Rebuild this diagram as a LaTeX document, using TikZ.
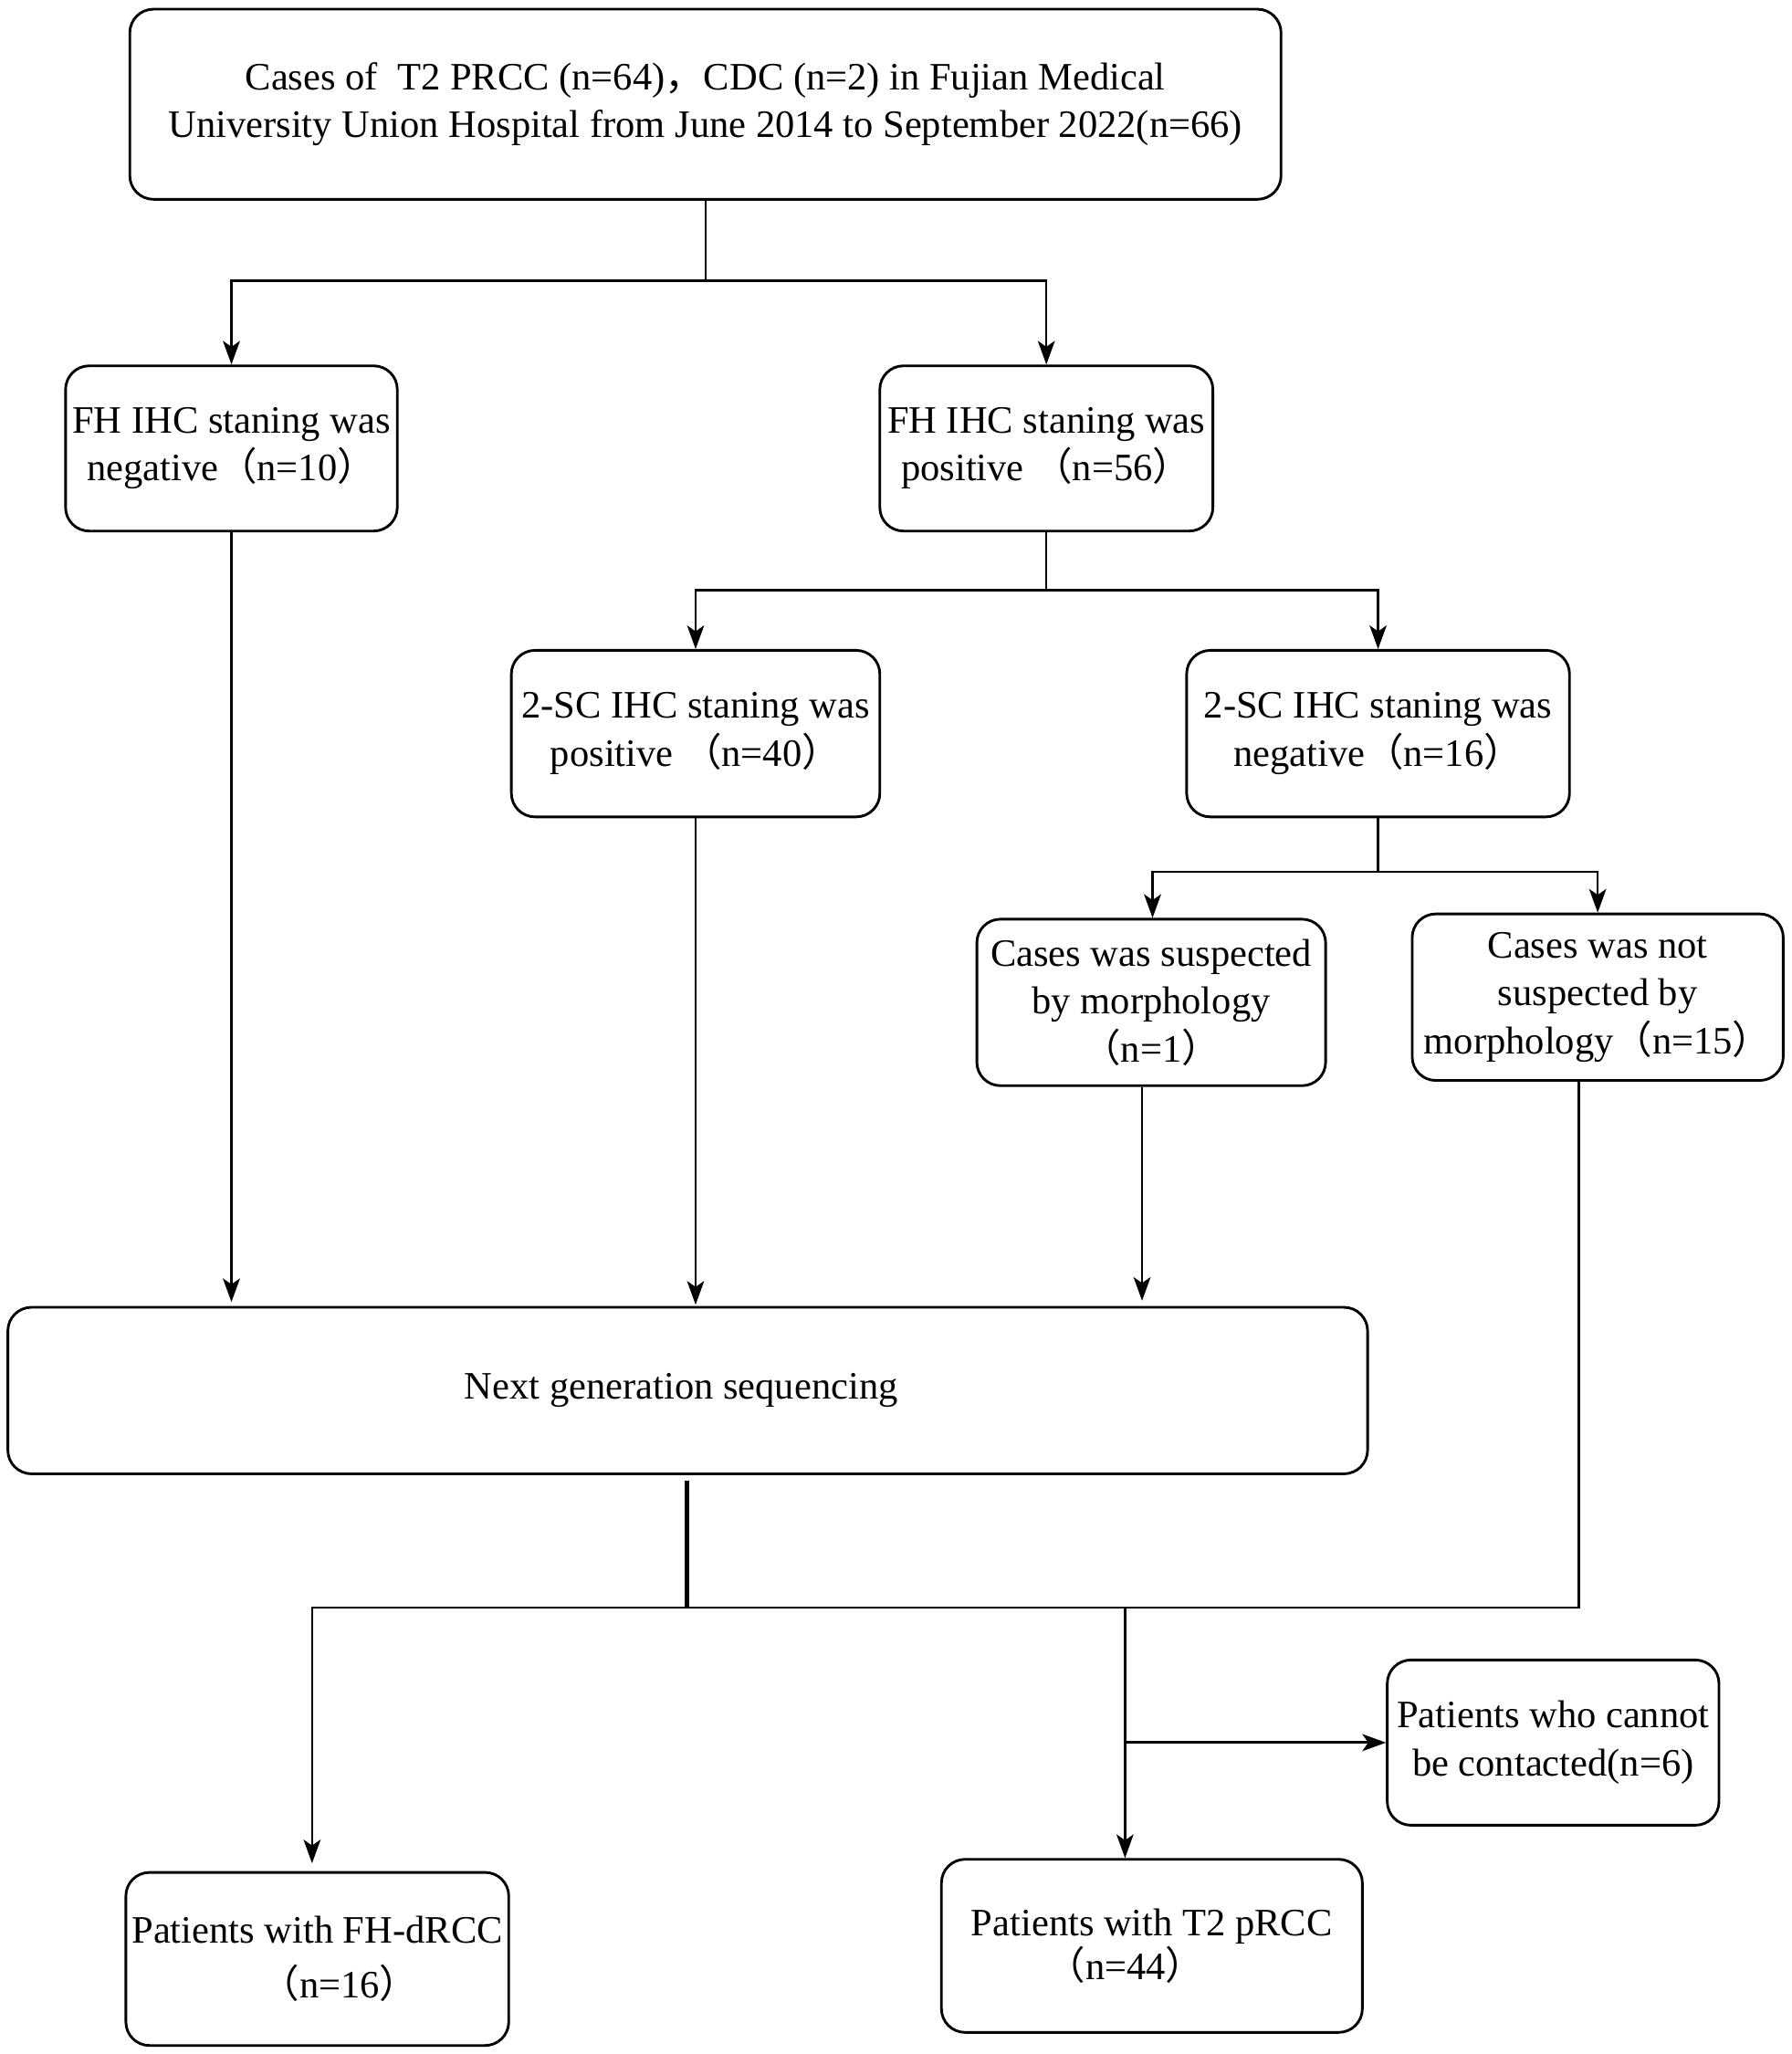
\documentclass[tikz,border=0pt]{standalone}
\usepackage{fontspec}
\setmainfont{Liberation Serif}
\newfontfamily\cjk{Noto Sans CJK SC}
\usetikzlibrary{arrows.meta}
\newcommand{\lp}{{\cjk （}}
\newcommand{\rp}{{\cjk ）}}
\newcommand{\fc}{{\cjk ，}}
\begin{document}
\begin{tikzpicture}[x=1pt,y=-1pt,
  box/.style={draw, line width=2pt, rounded corners=18pt, align=center, inner sep=0pt,
    font=\fontsize{29.6}{36.5}\selectfont},
  conn/.style={line width=1.6pt},
  arr/.style={conn, -{Stealth[length=18pt,width=13pt,inset=4.5pt]}}]
\useasboundingbox (0,0) rectangle (1366,1566.5);
\fill[white] (0,0) rectangle (1366,1566.5);
% boxes
\node[box, minimum width=878pt, minimum height=145pt] (top) at (538,79.5)
  {\raisebox{0pt}{Cases of\ \ T2 PRCC (n=64)\fc CDC (n=2) in Fujian Medical}\\University Union Hospital from June 2014 to September 2022(n=66)};
\node[box, minimum width=253pt, minimum height=126pt] (fhneg) at (176.5,342)
  {FH IHC staning was\\negative\lp n=10\rp};
\node[box, minimum width=254pt, minimum height=126pt] (fhpos) at (798,342)
  {FH IHC staning was\\positive \lp n=56\rp};
\node[box, minimum width=281pt, minimum height=127pt] (scpos) at (530.5,559.5)
  {2-SC IHC staning was\\positive \lp n=40\rp};
\node[box, minimum width=292pt, minimum height=127pt] (scneg) at (1051,559.5)
  {2-SC IHC staning was\\negative\lp n=16\rp};
\node[box, minimum width=266pt, minimum height=127pt] (susp) at (878,764.5)
  {Cases was suspected\\by morphology\\\lp n=1\rp};
\node[box, minimum width=283pt, minimum height=127pt] (nsusp) at (1218.5,760.5)
  {Cases was not\\suspected by\\morphology\lp n=15\rp};
\node[box, minimum width=1037pt, minimum height=127pt] (ngs) at (524.5,1060.5)
  {\hspace*{-10pt}Next generation sequencing};
\node[box, minimum width=292pt, minimum height=132pt] (fhd) at (242,1494)
  {Patients with FH-dRCC\\[5pt]\hspace*{34pt}\lp n=16\rp};
\node[box, minimum width=321pt, minimum height=132pt] (t2) at (878.5,1484)
  {Patients with T2 pRCC\\[-3pt]\hspace*{-40pt}\lp n=44\rp};
\node[box, minimum width=253pt, minimum height=126pt] (cannot) at (1184.5,1329)
  {Patients who cannot\\be contacted(n=6)};
% junction coordinates
\coordinate (j1) at (538,214);
\coordinate (j2) at (798,450);
\coordinate (j3) at (1051,665);
\coordinate (j4) at (524,1226);
\coordinate (j5) at (cannot.west -| 858,0);
% top split
\draw[conn] (top.south) -- (j1);
\draw[arr] (j1) -| (fhneg.north);
\draw[arr] (j1) -| (fhpos.north);
% FH positive split
\draw[conn] (fhpos.south) -- (j2);
\draw[arr] (j2) -| (scpos.north);
\draw[arr] (j2) -| (scneg.north);
% 2-SC negative split
\draw[conn] (scneg.south) -- (j3);
\draw[arr] (j3) -| ([xshift=1pt]susp.north);
\draw[arr] (j3) -| (nsusp.north);
% to NGS
\draw[arr] (fhneg.south) -- (fhneg.south |- 0,993);
\draw[arr] (scpos.south) -- (scpos.south |- 0,995);
\draw[arr] ([xshift=-7pt]susp.south) -- ([xshift=-7pt]susp.south |- 0,992);
% from NGS
\draw[line width=3pt] ([xshift=-0.5pt,yshift=-4pt]ngs.south) -- (j4);
\draw[arr] (j4) -- (238,1226) -- (238,1421);
\draw[conn] ([xshift=-14.5pt]nsusp.south) |- (j4);
\draw[arr] (858,1226) -- (858,1417);
\draw[arr, line width=2pt] (j5) -- (cannot.west);
\end{tikzpicture}
\end{document}
